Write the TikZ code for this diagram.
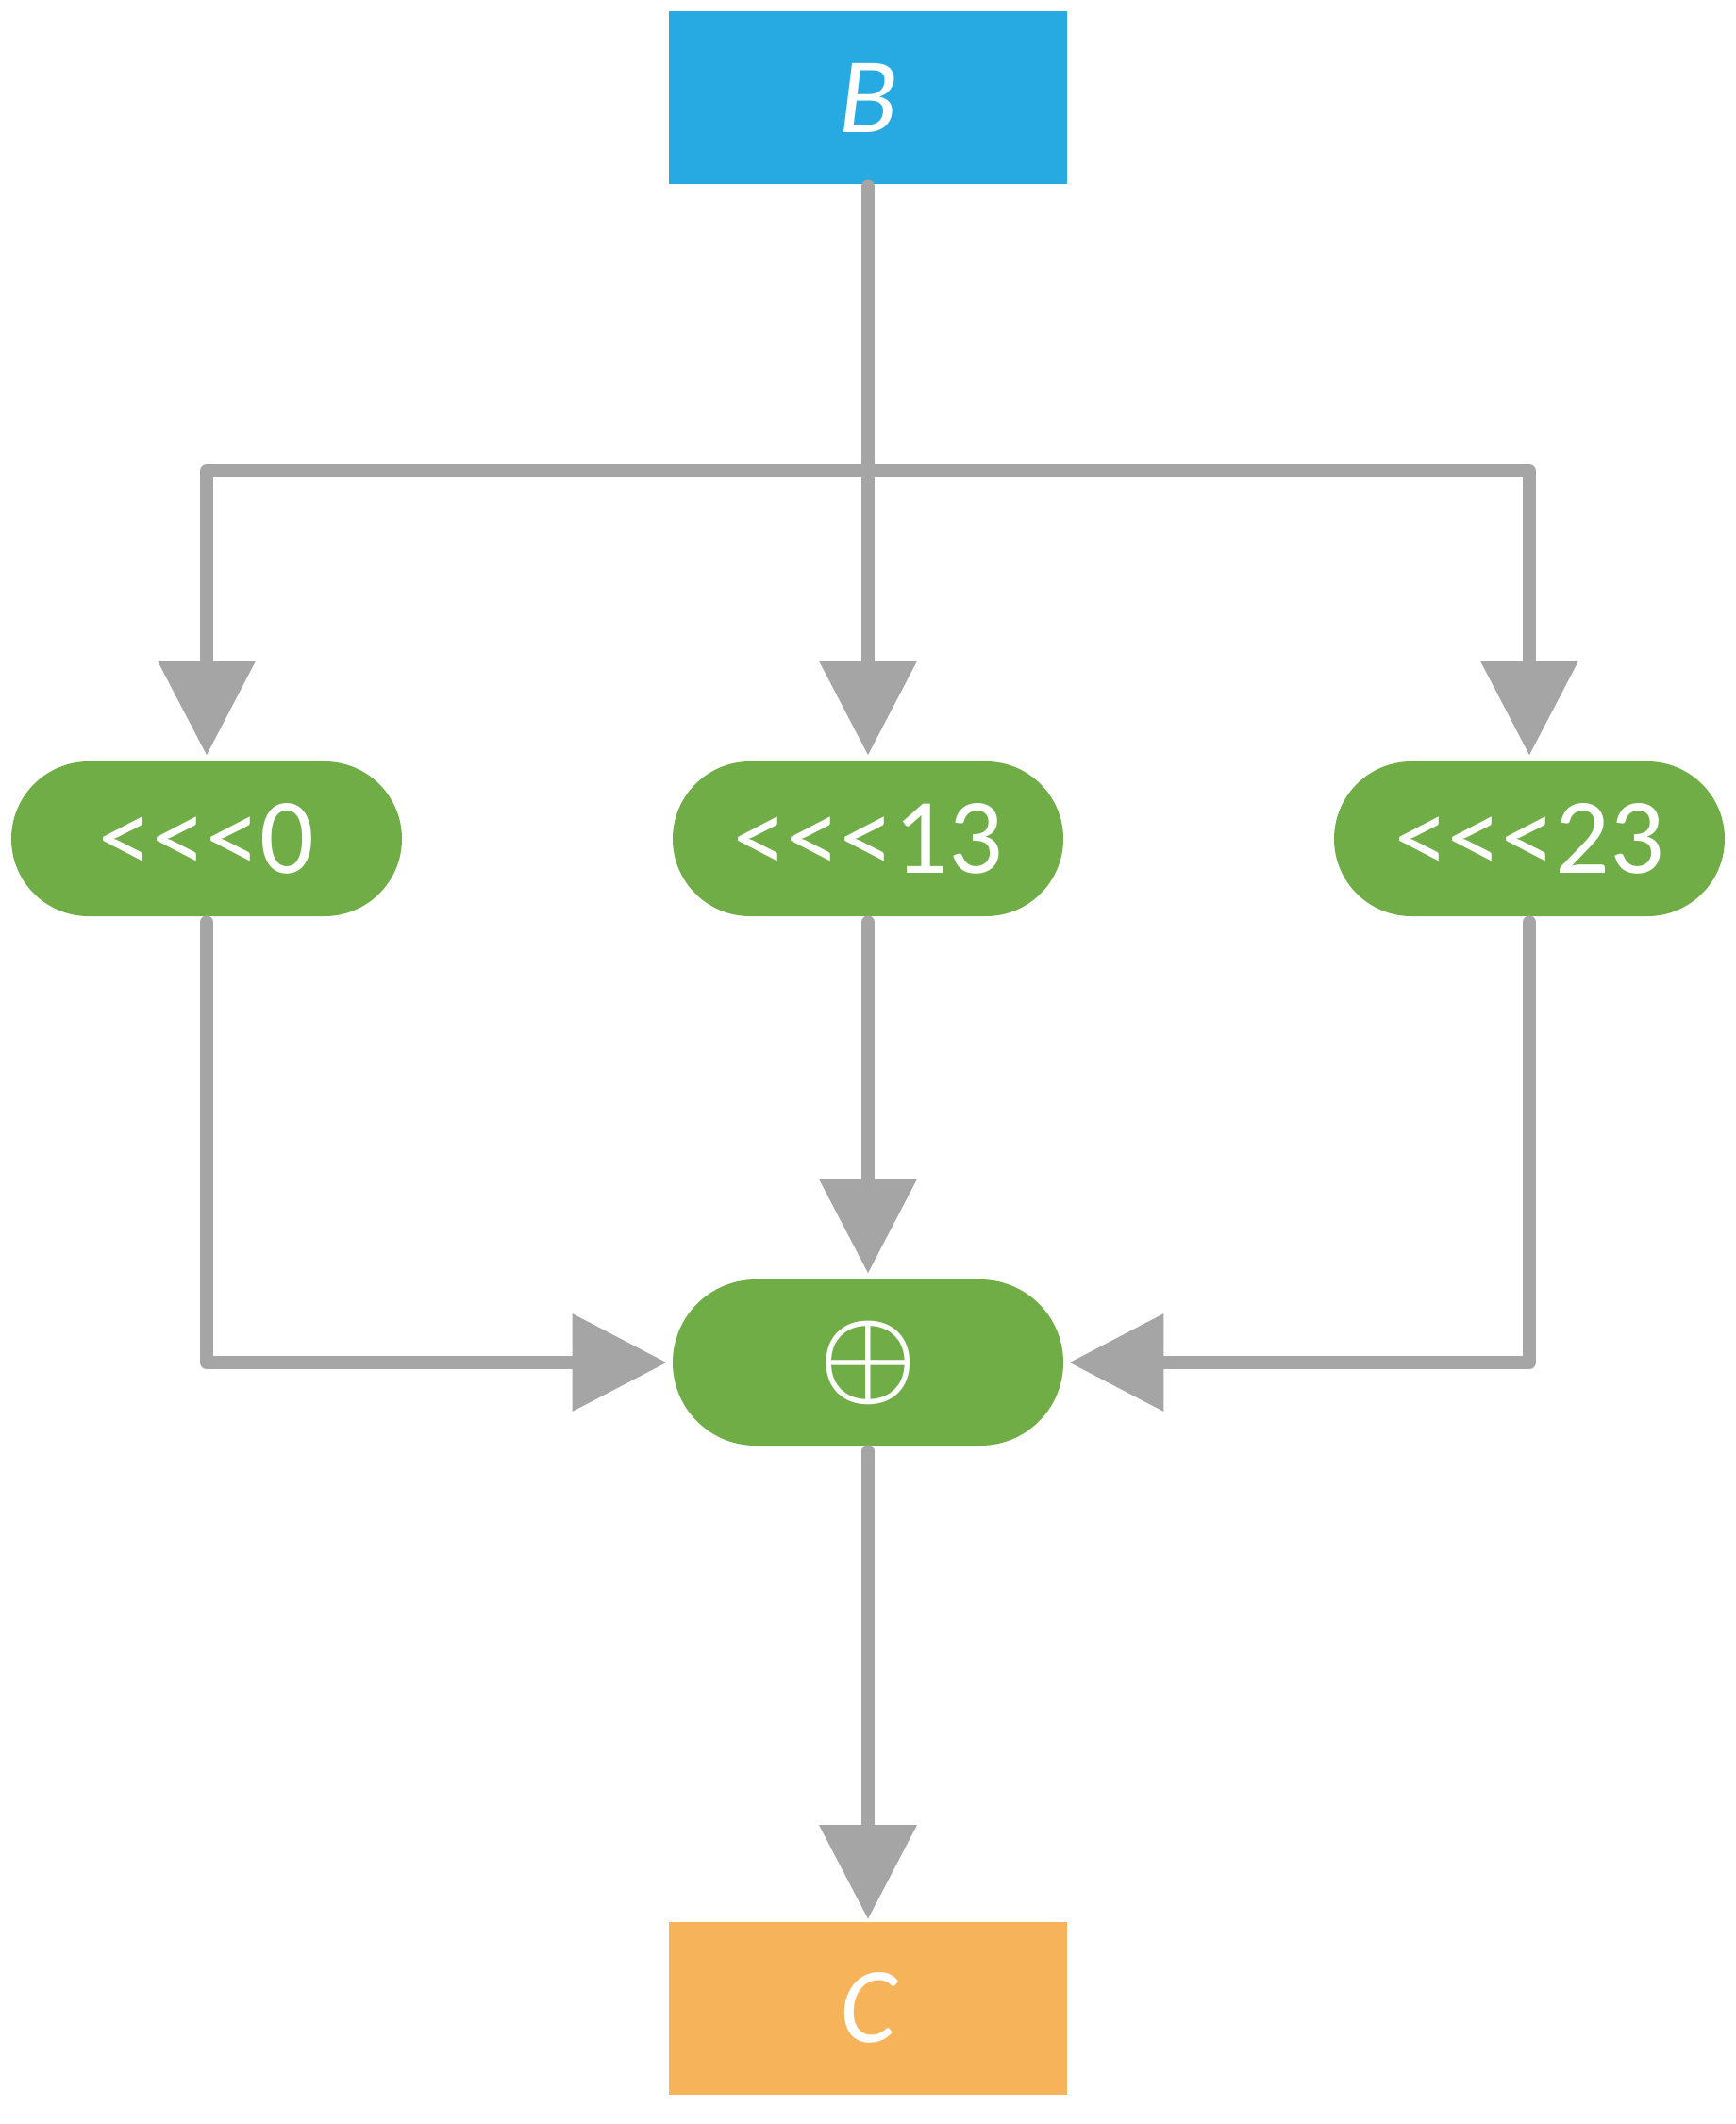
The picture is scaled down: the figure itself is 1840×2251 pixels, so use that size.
\documentclass[tikz,border=0pt]{standalone}
\usepackage{graphicx}
\usepackage{fontspec}
\setmainfont{Carlito}
\newfontfamily\opfont{Carlito}
\usetikzlibrary{arrows.meta}
\definecolor{inblue}{HTML}{27AAE1}
\definecolor{opgreen}{HTML}{70AD47}
\definecolor{outorange}{HTML}{F7B35A}
\definecolor{wire}{HTML}{A5A5A5}
\newcommand{\xorsign}{\scalebox{5.8}{\fontsize{10}{12}\selectfont\boldmath$\oplus$}}
\begin{document}
\begin{tikzpicture}[x=0.5pt,y=-0.5pt,
  lbl/.style={text=white,font=\fontsize{57}{68}\selectfont},
  databox/.style={lbl,rectangle,minimum width=211pt,minimum height=91.5pt,inner sep=0pt},
  opbox/.style={lbl,rectangle,fill=opgreen,minimum width=207pt,minimum height=82pt,
    rounded corners=41pt,inner sep=0pt,font=\opfont\fontsize{57}{68}\selectfont},
  xorbox/.style={opbox,minimum height=88pt,rounded corners=44pt},
  wirestyle/.style={draw=wire,line width=7pt,line cap=round,line join=round,
    -{Triangle[length=50pt,width=50pt]},shorten >=3pt}]
\useasboundingbox (0,0) rectangle (1840,2251);

% input and output words
\node[databox,fill=inblue] (B) at (920,103.5) {\itshape B};
\node[databox,fill=outorange] (C) at (920,2128) {\itshape C};

% rotations
\node[opbox] (r0) at (219,889) {<\kern0pt<\kern0pt<0};
\node[opbox] (r13) at (920,889) {<\kern0pt<\kern0pt<13};
\node[opbox] (r23) at (1621,889) {<\kern0pt<\kern0pt<23};

% combining xor
\node[xorbox] (X) at (920,1444) {\xorsign};

% fan-out from B
\coordinate (split) at (920,499);
\draw[wirestyle,shorten <=1pt] (B) -- (r13);
\draw[wirestyle] (split) -| (r0.north);
\draw[wirestyle] (split) -| (r23.north);

% into the xor
\draw[wirestyle,shorten <=3pt] (r0.south) |- (X.west);
\draw[wirestyle,shorten <=3pt] (r13) -- (X);
\draw[wirestyle,shorten <=3pt] (r23.south) |- (X.east);

% result
\draw[wirestyle,shorten <=3pt,shorten >=1pt] (X) -- (C);
\end{tikzpicture}
\end{document}
